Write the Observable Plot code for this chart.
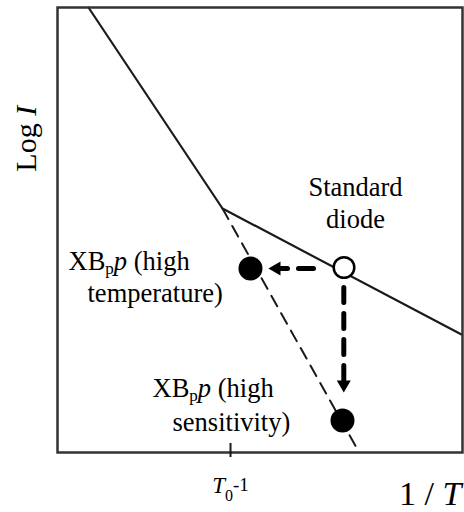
<!DOCTYPE html>
<html>
<head>
<meta charset="utf-8">
<script src="https://cdn.jsdelivr.net/npm/d3@7"></script>
<script src="https://cdn.jsdelivr.net/npm/@observablehq/plot@0.6"></script>
<style>
  html, body { margin: 0; padding: 0; background: #fff; }
  #chart svg { display: block; overflow: visible; }
  #chart svg text { font-family: "Liberation Serif", "Times New Roman", serif; }
</style>
</head>
<body>
<div id="chart"></div>
<script>
// Schematic axes: x = 1/T (arbitrary units 0–100), y = log I (arbitrary units 0–100)
const standardInvT = [7.65, 40.74, 99.75];
const standardLogI = [100, 54.83, 26.52];

const xbppInvT = [40.74, 74.07];
const xbppLogI = [54.83, 0.67];

const filledInvT = [47.65, 70.37];
const filledLogI = [41.35, 7.19];

const openInvT = [70.74];
const openLogI = [41.57];

// arrows: shaft start/end and head position
const arrowH = {invT: [63.21, 55.06], logI: [41.35, 41.35], headInvT: 54.07, headLogI: 41.35};
const arrowV = {invT: [70.69, 70.69], logI: [37.08, 16.18], headInvT: 70.69, headLogI: 15.28};

const tickInvT = [42.72];

const labelTexts = ["Standard", "diode", "XBpp (high", "temperature)", "XBpp (high", "sensitivity)"];
const labelInvT  = [73.58, 73.58, 2.72, 7.41, 23.46, 28.40];
const labelLogI  = [57.53, 50.34, 41.0, 33.71, 12.4, 4.72];
const labelAnchor = ["middle", "middle", "start", "start", "start", "start"];

const xTickLabel = "T0-1";
const xAxisLabel = "1 / T";
const yAxisLabel = "Log I";

const pts = (xs, ys) => xs.map((x, i) => ({x, y: ys[i]}));
const labels = labelTexts.map((t, i) => ({t, x: labelInvT[i], y: labelLogI[i], a: labelAnchor[i]}));

const font = "Liberation Serif";
const textOpts = {x: "x", y: "y", text: "t", lineAnchor: "bottom", fontSize: 26.5, fill: "black", fontFamily: font};

const plot = Plot.plot({
  width: 464,
  height: 512,
  marginLeft: 57,
  marginRight: 2,
  marginTop: 7,
  marginBottom: 60,
  x: {domain: [0, 100], axis: null},
  y: {domain: [0, 100], axis: null},
  style: {background: "white", fontFamily: font},
  marks: [
    Plot.line(pts(standardInvT, standardLogI), {x: "x", y: "y", stroke: "#1a1a1a", strokeWidth: 2.2}),
    Plot.line(pts(xbppInvT, xbppLogI), {x: "x", y: "y", stroke: "#1a1a1a", strokeWidth: 2, strokeDasharray: "12,8"}),
    Plot.frame({stroke: "#333", strokeWidth: 2.5}),
    Plot.ruleX(tickInvT, {x: d => d, y1: 2.02, y2: -1.12, stroke: "#1a1a1a", strokeWidth: 2}),
    Plot.line(pts(arrowH.invT, arrowH.logI), {x: "x", y: "y", stroke: "black", strokeWidth: 5, strokeDasharray: "15,11"}),
    Plot.line(pts(arrowV.invT, arrowV.logI), {x: "x", y: "y", stroke: "black", strokeWidth: 5, strokeDasharray: "15,11"}),
    Plot.dot([{x: arrowH.headInvT, y: arrowH.headLogI}], {x: "x", y: "y", symbol: "triangle", r: 5.2, fill: "black", rotate: -90}),
    Plot.dot([{x: arrowV.headInvT, y: arrowV.headLogI}], {x: "x", y: "y", symbol: "triangle", r: 5.2, fill: "black", rotate: 180}),
    Plot.dot(pts(filledInvT, filledLogI), {x: "x", y: "y", r: 12, fill: "black"}),
    Plot.dot(pts(openInvT, openLogI), {x: "x", y: "y", r: 10.3, fill: "white", stroke: "black", strokeWidth: 2.5}),
    Plot.text(labels.filter(d => d.a === "middle"), {...textOpts, textAnchor: "middle"}),
    Plot.text(labels.filter(d => d.a === "start"), {...textOpts, textAnchor: "start"}),
    Plot.text([{t: xTickLabel, x: 42.72, y: -9.21}], {x: "x", y: "y", text: "t", textAnchor: "middle", lineAnchor: "bottom", fontSize: 23, fill: "black", fontFamily: font}),
    Plot.text([{t: xAxisLabel, x: 99.75, y: -11.7}], {x: "x", y: "y", text: "t", textAnchor: "end", lineAnchor: "bottom", fontSize: 34, fill: "black", fontFamily: font}),
    Plot.text([{t: yAxisLabel, x: -5.2, y: 70.5}], {x: "x", y: "y", text: "t", textAnchor: "middle", lineAnchor: "bottom", rotate: -90, fontSize: 30, fill: "black", fontFamily: font})
  ]
});

// rich-text formatting (subscripts / italics) for the labels
d3.select(plot).selectAll("text").each(function () {
  const el = d3.select(this);
  const s = this.textContent;
  if (s === "XBpp (high") {
    el.text(null);
    el.append("tspan").text("XB");
    el.append("tspan").attr("font-size", 17).attr("dy", 4).text("p");
    el.append("tspan").attr("font-style", "italic").attr("dy", -4).text("p");
    el.append("tspan").text(" (high");
  } else if (s === "T0-1") {
    el.text(null);
    el.append("tspan").attr("font-style", "italic").text("T");
    el.append("tspan").attr("font-size", 16).attr("dy", 8).text("0");
    el.append("tspan").attr("font-size", 19).attr("dy", -10).text("-1");
  } else if (s === "1 / T") {
    el.text(null);
    el.append("tspan").text("1 / ");
    el.append("tspan").attr("font-style", "italic").text("T");
  } else if (s === "Log I") {
    el.text(null);
    el.append("tspan").text("Log ");
    el.append("tspan").attr("font-style", "italic").text("I");
  }
});

document.getElementById("chart").appendChild(plot);
</script>
</body>
</html>
